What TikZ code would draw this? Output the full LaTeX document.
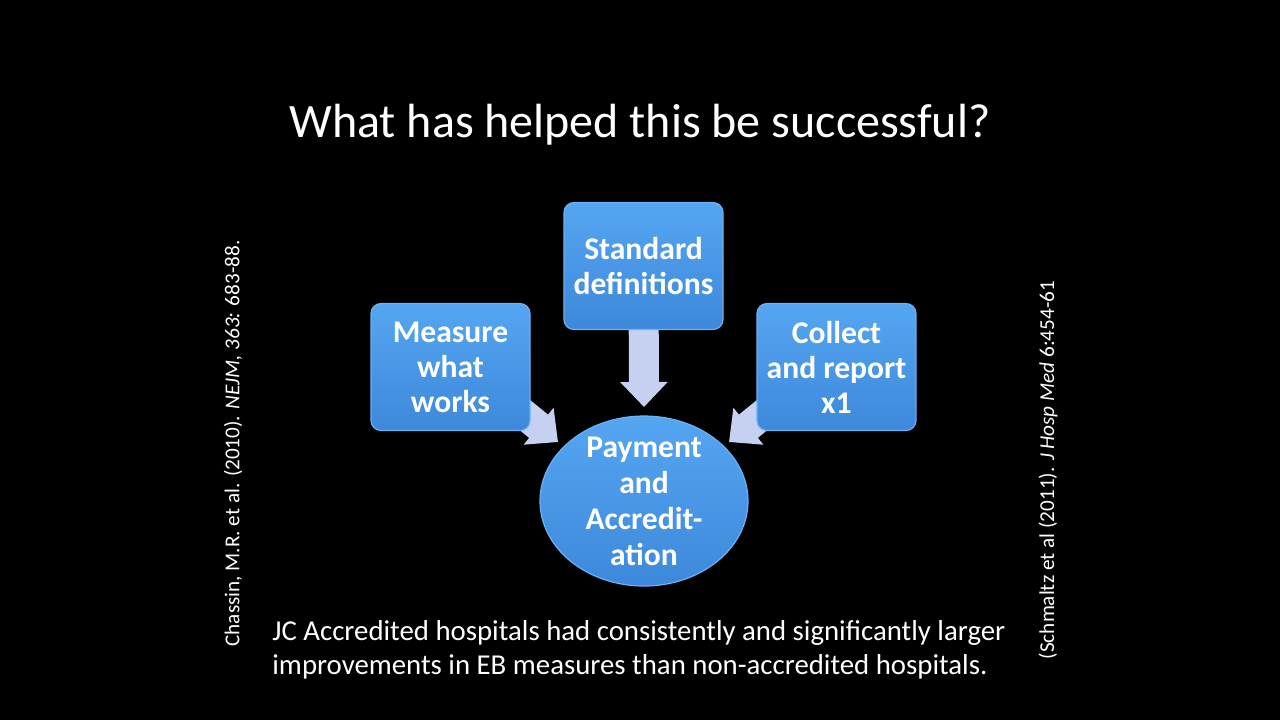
\documentclass[tikz,border=0pt]{standalone}
\usepackage{fontspec}
\setmainfont{Carlito}
\usetikzlibrary{arrows.meta,shapes.geometric,calc}
\pgfdeclarelayer{back}
\pgfsetlayers{back,main}
\definecolor{boxtop}{HTML}{55A6F2}
\definecolor{boxbot}{HTML}{3D88DA}
\definecolor{boxedge}{HTML}{6AB2F4}
\definecolor{arrfill}{HTML}{C6D0F1}
\begin{document}
\begin{tikzpicture}[x=0.5pt,y=-0.5pt,
  stepbox/.style={rectangle, rounded corners=5pt, minimum width=79.5pt, minimum height=63.5pt,
    top color=boxtop, bottom color=boxbot, draw=boxedge, line width=0.6pt, text=white,
    font=\bfseries\fontsize{15.8}{17.5}\selectfont, align=center, inner sep=0pt},
  goal/.style={ellipse, minimum width=104pt, minimum height=85pt, inner xsep=0pt, inner ysep=-15pt,
    top color=boxtop, bottom color=boxbot, draw=boxedge, line width=0.6pt, text=white,
    font=\bfseries\fontsize{15.8}{18}\selectfont, align=center},
  blockarrow/.style={draw=arrfill, line width=15pt, -{Triangle[width=23pt,length=12.5pt]}},
  cite/.style={text=white, font=\fontsize{10.6}{12}\selectfont, rotate=90, inner sep=0pt},
  plain/.style={text=white, inner sep=0pt}]
\useasboundingbox (0,0) rectangle (1280,720);
\begin{pgfonlayer}{back}
\fill[black] (0,0) rectangle (1280,720);
\end{pgfonlayer}

\node[plain, anchor=base, font=\fontsize{24}{28}\selectfont] (title) at (640,137) {What has helped this be successful?};

\node[stepbox] (s) at (643.5,266) {Standard\\definitions};
\node[stepbox] (m) at (450.5,367) {Measure\\what\\works};
\node[stepbox] (c) at (836.5,367) {Collect\\and report\\x1};
\node[goal] (e) at (644,501) {Payment\\and\\Accredit-\\ation};

\coordinate (tipS) at (644,407);
\coordinate (tipL) at (558,442);
\coordinate (tipR) at (729,442);
\begin{pgfonlayer}{back}
\draw[blockarrow] (s.center) -- (tipS);
\draw[blockarrow] ($(m.center)+(46,25)$) -- (tipL);
\draw[blockarrow] ($(c.center)+(-46,25)$) -- (tipR);
\end{pgfonlayer}

\node[plain, anchor=base west, align=left, font=\fontsize{14.4}{17}\selectfont] (note) at (272,674)
  {JC Accredited hospitals had consistently and significantly larger\\improvements in EB measures than non-accredited hospitals.};

\node[cite] (citeL) at (233,443.5) {Chassin, M.R. et al. (2010). \textit{NEJM, 363:} 683-88.};
\node[cite] (citeR) at (1048,470) {(Schmaltz et al (2011). \textit{J Hosp Med} 6:454-61};
\end{tikzpicture}
\end{document}
